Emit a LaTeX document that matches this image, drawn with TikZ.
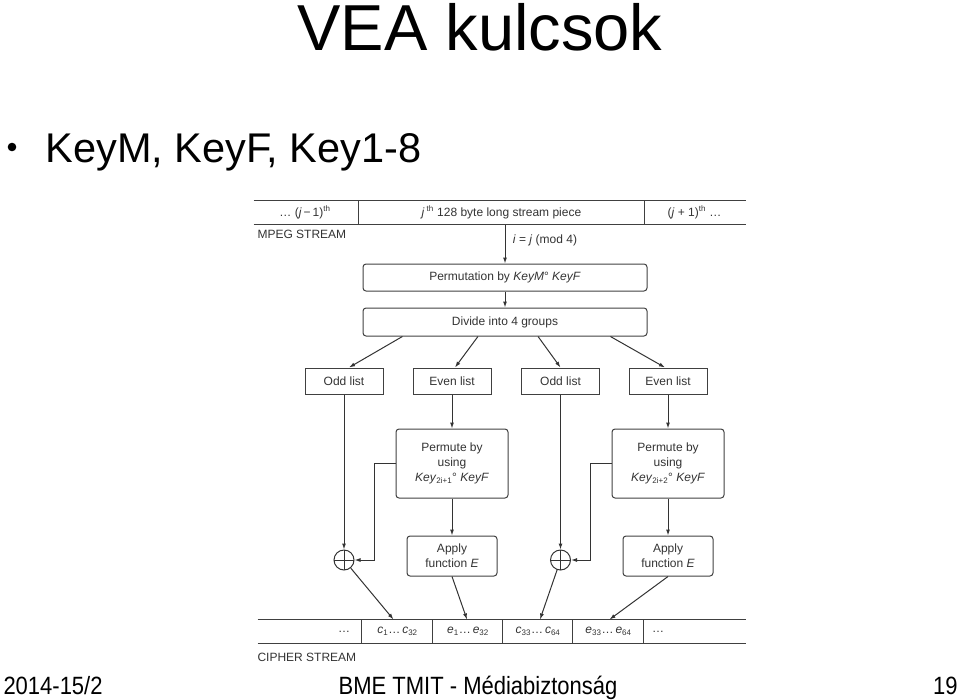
\documentclass[tikz,border=0pt]{standalone}
\usepackage{fontspec}
\setmainfont{Liberation Sans}
\newfontfamily\footfont[FakeStretch=0.88]{Liberation Sans}
\usepackage{tikz}
\usetikzlibrary{arrows.meta, positioning, calc}

\begin{document}
\begin{tikzpicture}[
    x=1pt, y=-1pt,
    line width=1pt,
    every node/.style={font=\fontsize{12}{15}\selectfont, text=black!80},
    cell/.style={rectangle, minimum height=23, inner sep=0},
    listbox/.style={draw=black!75, rectangle, minimum width=78, minimum height=26, inner sep=0},
    roundbox/.style={draw=black!75, rectangle, rounded corners=3pt, align=center, inner sep=0},
    xor/.style={draw=black!80, circle, minimum size=20, inner sep=0,
        path picture={\draw[black!80] (path picture bounding box.north) -- (path picture bounding box.south)
            (path picture bounding box.west) -- (path picture bounding box.east);}},
    arr/.style={draw=black!80, -{Latex[length=6pt, width=4pt]}}
]
    \useasboundingbox (0,0) rectangle (960,699);

    % Title
    \node[anchor=base west, inner sep=0, text=black, font=\fontsize{65}{78}\selectfont] (title) at (297,50) {VEA kulcsok};
    \node[circle, fill=black, minimum size=8.6, inner sep=0] (bullet) at (12,147) {};
    \node[anchor=base west, inner sep=0, text=black, font=\fontsize{41.5}{50}\selectfont] (keys) at (45,162) {KeyM, KeyF, Key1-8};

    % MPEG stream
    \node[cell, minimum width=102] (mprev) at (305,212.5) {… (\textit{j}\,−\,1)\textsuperscript{th}};
    \node[cell, minimum width=285] (mcur) at (501.5,212.5) {\textit{j}\,\textsuperscript{th} 128 byte long stream piece};
    \node[cell, minimum width=101] (mnext) at (694.5,212.5) {(\textit{j} + 1)\textsuperscript{th} …};
    \draw[black!75] (mprev.north west) -- (mnext.north east);
    \draw[black!75] (mprev.south west) -- (mnext.south east);
    \draw[black!75] (mcur.north west) -- (mcur.south west);
    \draw[black!75] (mcur.north east) -- (mcur.south east);
    \node[anchor=west, inner sep=0] (mpeglabel) at (257,234) {MPEG STREAM};

    % Permutation and grouping
    \node[roundbox, minimum width=284, minimum height=27] (perm) at (505,277.5) {Permutation by \textit{KeyM}° \textit{KeyF}};
    \node[roundbox, minimum width=284, minimum height=28] (divide) at (505,322) {Divide into 4 groups};
    \draw[arr] (perm.north |- mcur.south) -- (perm.north) node[pos=0.4, right=4pt] {\textit{i} = \textit{j} (mod 4)};
    \draw[arr] (perm) -- (divide);

    % Lists
    \node[listbox] (odd1) at (344,381) {Odd list};
    \node[listbox] (even1) at (452,381) {Even list};
    \node[listbox] (odd2) at (560.5,381) {Odd list};
    \node[listbox] (even2) at (668,381) {Even list};
    \draw[arr] ($(divide.south west)!0.14!(divide.south east)$) -- ([xshift=5]odd1.north);
    \draw[arr] ($(divide.south west)!0.405!(divide.south east)$) -- ([xshift=3]even1.north);
    \draw[arr] ($(divide.south west)!0.616!(divide.south east)$) -- (odd2.north);
    \draw[arr] ($(divide.south west)!0.87!(divide.south east)$) -- ([xshift=-3]even2.north);

    % Permute and apply
    \node[roundbox, minimum width=112, minimum height=69] (perm1) at (452,463.5) {Permute by\\using\\\textit{Key}\textsubscript{2i+1}° \textit{KeyF}};
    \node[roundbox, minimum width=112, minimum height=69] (perm2) at (668,463.5) {Permute by\\using\\\textit{Key}\textsubscript{2i+2}° \textit{KeyF}};
    \node[roundbox, minimum width=90, minimum height=40] (apply1) at (452,556) {Apply\\function \textit{E}};
    \node[roundbox, minimum width=90, minimum height=40] (apply2) at (668,556) {Apply\\function \textit{E}};
    \node[xor] (xor1) at (344,560) {};
    \node[xor] (xor2) at (560.5,560) {};

    \draw[arr] (odd1) -- (xor1);
    \draw[arr] (odd2) -- (xor2);
    \draw[arr] (even1) -- (perm1);
    \draw[arr] (even2) -- (perm2);
    \draw[arr] (perm1) -- (apply1);
    \draw[arr] (perm2) -- (apply2);
    \draw[arr] (perm1.west) -- ++(-21,0) |- (xor1.east);
    \draw[arr] (perm2.west) -- ++(-21,0) |- (xor2.east);

    % Cipher stream
    \node[cell, minimum width=104, text width=80, align=right] (cdots1) at (310,631.5) {…};
    \node[cell, minimum width=71] (c1) at (397.5,631.5) {\textit{c}\textsubscript{1}…\,\textit{c}\textsubscript{32}};
    \node[cell, minimum width=70] (e1) at (468,631.5) {\textit{e}\textsubscript{1}…\,\textit{e}\textsubscript{32}};
    \node[cell, minimum width=70] (c33) at (538,631.5) {\textit{c}\textsubscript{33}…\,\textit{c}\textsubscript{64}};
    \node[cell, minimum width=71] (e33) at (608.5,631.5) {\textit{e}\textsubscript{33}…\,\textit{e}\textsubscript{64}};
    \node[cell, minimum width=101, text width=85, align=left] (cdots2) at (694.5,631.5) {…};
    \draw[black!75] (cdots1.north west) -- (cdots2.north east);
    \draw[black!75] (cdots1.south west) -- (cdots2.south east);
    \foreach \c in {c1,e1,c33,e33,cdots2}
        \draw[black!75] (\c.north west) -- (\c.south west);
    \node[anchor=west, inner sep=0] (cipherlabel) at (257,657) {CIPHER STREAM};

    \draw[arr] (xor1) -- ([xshift=-4]c1.north);
    \draw[arr] (apply1.south) -- ([xshift=-1]e1.north);
    \draw[arr] (xor2) -- ([xshift=2]c33.north);
    \draw[arr] (apply2.south) -- ([xshift=1]e33.north);

    % Footer
    \node[anchor=base west, inner sep=0, text=black, font=\footfont\fontsize{25}{30}\selectfont] (term) at (3,694) {2014-15/2};
    \node[anchor=base, inner sep=0, text=black, font=\footfont\fontsize{25}{30}\selectfont] (course) at (478,694) {BME TMIT - Médiabiztonság};
    \node[anchor=base east, inner sep=0, text=black, font=\footfont\fontsize{25}{30}\selectfont] (page) at (958,694) {19};
\end{tikzpicture}
\end{document}
